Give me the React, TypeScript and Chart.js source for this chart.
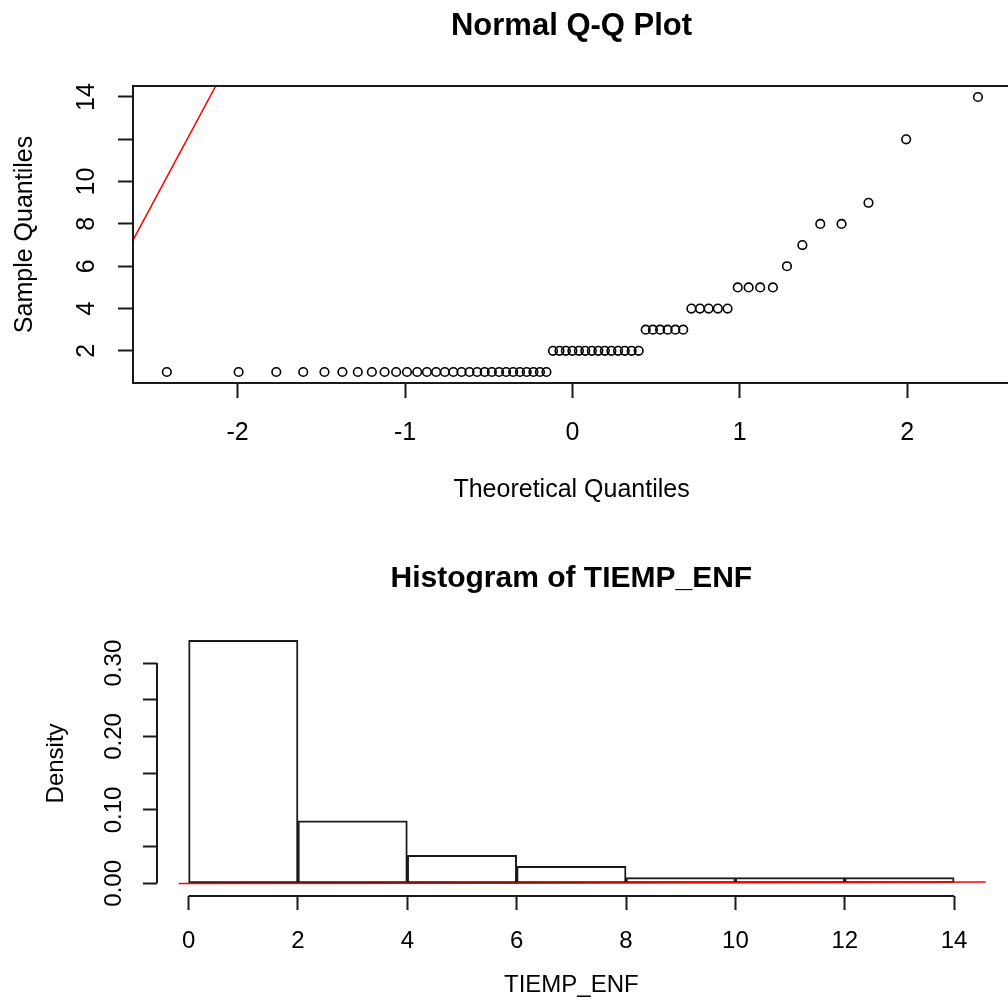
import React, { useEffect, useRef } from "react";
import { Chart, registerables } from "chart.js";

Chart.register(...registerables);

const FONT = '"Liberation Sans", Arial, Helvetica, sans-serif';

// ---------- Normal Q-Q plot data ----------
const qqTheoretical = [
  -2.423, -1.994, -1.769, -1.608, -1.481, -1.374, -1.282, -1.198, -1.122, -1.053,
  -0.988, -0.927, -0.869, -0.814, -0.762, -0.711, -0.662, -0.615, -0.569, -0.524,
  -0.481, -0.438, -0.396, -0.354, -0.313, -0.273, -0.233, -0.194, -0.155, -0.116,
  -0.077, -0.039, 0.0, 0.039, 0.077, 0.116, 0.155, 0.194, 0.233, 0.273,
  0.313, 0.354, 0.396, 0.438, 0.481, 0.524, 0.569, 0.615, 0.662, 0.711,
  0.762, 0.814, 0.869, 0.927, 0.988, 1.053, 1.122, 1.198, 1.282, 1.374,
  1.481, 1.608, 1.769, 1.994, 2.423,
];
const qqSample = [
  1, 1, 1, 1, 1, 1, 1, 1, 1, 1,
  1, 1, 1, 1, 1, 1, 1, 1, 1, 1,
  1, 1, 1, 1, 1, 1, 1, 1, 1, 2,
  2, 2, 2, 2, 2, 2, 2, 2, 2, 2,
  2, 2, 2, 3, 3, 3, 3, 3, 3, 4,
  4, 4, 4, 4, 5, 5, 5, 5, 6, 7,
  8, 8, 9, 12, 14,
];
const qqLineX = [-2.7, -2.0];
const qqLineY = [6.13, 16.45];
const qqXTicks = [-2, -1, 0, 1, 2];
const qqXTickLabels = ["-2", "-1", "0", "1", "2"];
const qqYTicks = [2, 4, 6, 8, 10, 12, 14];
const qqYTickLabels = ["2", "4", "6", "8", "10", "", "14"];

// ---------- Histogram data ----------
const histBreaks = [0, 2, 4, 6, 8, 10, 12, 14];
const histDensity = [0.331, 0.085, 0.038, 0.023, 0.0077, 0.0077, 0.0077];
const histLineX = [-0.18, 5.8, 11.8, 14.7];
const histLineY = [-0.0004, 0.0002, 0.0012, 0.0018];
const histXTicks = [0, 2, 4, 6, 8, 10, 12, 14];
const histXTickLabels = ["0", "2", "4", "6", "8", "10", "12", "14"];
const histYTicks = [0, 0.05, 0.1, 0.15, 0.2, 0.25, 0.3];
const histYTickLabels = ["0.00", "", "0.10", "", "0.20", "", "0.30"];

const INK = "#1a1a1a";

const framePlugin = {
  id: "frame",
  afterDraw(chart: any) {
    const { ctx, chartArea } = chart;
    const { left, top, right, bottom } = chartArea;
    ctx.save();
    ctx.strokeStyle = INK;
    ctx.lineWidth = 2;
    ctx.strokeRect(left, top, right - left, bottom - top);
    ctx.restore();
  },
};

const histAxesPlugin = {
  id: "histAxes",
  afterDraw(chart: any) {
    const { ctx, chartArea } = chart;
    const xs = chart.scales.x;
    const ys = chart.scales.y;
    ctx.save();
    ctx.strokeStyle = INK;
    ctx.lineWidth = 2;
    ctx.beginPath();
    ctx.moveTo(xs.getPixelForValue(histXTicks[0]), chartArea.bottom);
    ctx.lineTo(xs.getPixelForValue(histXTicks[histXTicks.length - 1]), chartArea.bottom);
    ctx.moveTo(chartArea.left, ys.getPixelForValue(histYTicks[0]));
    ctx.lineTo(chartArea.left, ys.getPixelForValue(histYTicks[histYTicks.length - 1]));
    ctx.stroke();
    ctx.restore();
  },
};

function tickGrid(len: number) {
  return {
    display: true,
    drawOnChartArea: false,
    drawTicks: true,
    tickLength: len,
    tickColor: INK,
    tickWidth: 2,
  };
}

function qqConfig(): any {
  const f25 = { family: FONT, size: 25, lineHeight: 1.2 };
  return {
    type: "scatter",
    data: {
      datasets: [
        {
          type: "line",
          data: qqLineX.map((x, i) => ({ x, y: qqLineY[i] })),
          borderColor: "#ff0000",
          borderWidth: 1.5,
          pointRadius: 0,
          fill: false,
          order: 0,
        },
        {
          type: "scatter",
          data: qqTheoretical.map((x, i) => ({ x, y: qqSample[i] })),
          pointStyle: "circle",
          pointRadius: 4.3,
          pointBorderWidth: 1.6,
          pointBorderColor: "#000",
          pointBackgroundColor: "rgba(0,0,0,0)",
          showLine: false,
          order: 1,
        },
      ],
    },
    options: {
      responsive: false,
      animation: false,
      devicePixelRatio: 1,
      events: [],
      layout: { padding: { left: 0, right: 5, top: 0, bottom: 0 } },
      plugins: {
        legend: { display: false },
        tooltip: { enabled: false },
        title: {
          display: true,
          fullSize: false,
          text: "Normal Q-Q Plot",
          color: "#000",
          font: { family: FONT, size: 31, weight: "bold", lineHeight: 1.2 },
          padding: { top: 7.5, bottom: 41.3 },
        },
      },
      scales: {
        x: {
          type: "linear",
          min: -2.625,
          max: 2.615,
          afterBuildTicks: (s: any) => {
            s.ticks = qqXTicks.map((v) => ({ value: v }));
          },
          afterFit: (s: any) => {
            s.height = 137;
          },
          grid: tickGrid(15),
          border: { display: false },
          ticks: {
            autoSkip: false,
            maxRotation: 0,
            padding: 20,
            color: "#000",
            font: f25,
            callback: (_v: any, i: number) => qqXTickLabels[i],
          },
          title: {
            display: true,
            text: "Theoretical Quantiles",
            color: "#000",
            font: f25,
            padding: { top: 0, bottom: 15 },
          },
        },
        y: {
          type: "linear",
          min: 0.48,
          max: 14.52,
          afterBuildTicks: (s: any) => {
            s.ticks = qqYTicks.map((v) => ({ value: v }));
          },
          afterFit: (s: any) => {
            s.width = 133;
          },
          grid: tickGrid(15),
          border: { display: false },
          ticks: {
            autoSkip: false,
            minRotation: 90,
            maxRotation: 90,
            crossAlign: "center",
            padding: 17,
            color: "#000",
            font: f25,
            callback: (_v: any, i: number) => qqYTickLabels[i],
          },
          title: {
            display: true,
            text: "Sample Quantiles",
            color: "#000",
            font: f25,
            padding: { top: 10, bottom: 0 },
          },
        },
      },
    },
    plugins: [framePlugin],
  };
}

function histConfig(): any {
  const f24 = { family: FONT, size: 24, lineHeight: 1.2 };
  const centers = histDensity.map((_d, i) => (histBreaks[i] + histBreaks[i + 1]) / 2);
  return {
    type: "bar",
    data: {
      datasets: [
        {
          type: "line",
          data: histLineX.map((x, i) => ({ x, y: histLineY[i] })),
          borderColor: "#ff0000",
          borderWidth: 1.5,
          pointRadius: 0,
          fill: false,
          order: 0,
        },
        {
          type: "bar",
          data: centers.map((x, i) => ({ x, y: histDensity[i] })),
          backgroundColor: "rgba(255,255,255,0)",
          borderColor: INK,
          borderWidth: 1.3,
          borderSkipped: false,
          barPercentage: 1,
          categoryPercentage: 1,
          order: 1,
        },
      ],
    },
    options: {
      responsive: false,
      animation: false,
      devicePixelRatio: 1,
      events: [],
      layout: { padding: { left: 0, right: 22.3, top: 0, bottom: 0 } },
      plugins: {
        legend: { display: false },
        tooltip: { enabled: false },
        title: {
          display: true,
          fullSize: false,
          text: "Histogram of TIEMP_ENF",
          color: "#000",
          font: { family: FONT, size: 30, weight: "bold", lineHeight: 1.2 },
          padding: { top: 41, bottom: 33.8 },
        },
      },
      scales: {
        x: {
          type: "linear",
          offset: false,
          min: -0.578,
          max: 14.578,
          afterBuildTicks: (s: any) => {
            s.ticks = histXTicks.map((v) => ({ value: v }));
          },
          afterFit: (s: any) => {
            s.height = 105;
          },
          grid: { ...tickGrid(14), offset: false },
          border: { display: false },
          ticks: {
            autoSkip: false,
            maxRotation: 0,
            padding: 16.6,
            color: "#000",
            font: f24,
            callback: (_v: any, i: number) => histXTickLabels[i],
          },
          title: {
            display: true,
            text: "TIEMP_ENF",
            color: "#000",
            font: f24,
            padding: { top: 0, bottom: 1.6 },
          },
        },
        y: {
          type: "linear",
          min: -0.0173,
          max: 0.344,
          afterBuildTicks: (s: any) => {
            s.ticks = histYTicks.map((v) => ({ value: v }));
          },
          afterFit: (s: any) => {
            s.width = 157;
          },
          grid: tickGrid(14),
          border: { display: false },
          ticks: {
            autoSkip: false,
            minRotation: 90,
            maxRotation: 90,
            crossAlign: "center",
            padding: 5.6,
            color: "#000",
            font: f24,
            callback: (_v: any, i: number) => histYTickLabels[i],
          },
          title: {
            display: true,
            text: "Density",
            color: "#000",
            font: f24,
            padding: { top: 41.6, bottom: 0 },
          },
        },
      },
    },
    plugins: [histAxesPlugin],
  };
}

export default function App() {
  const topRef = useRef<HTMLCanvasElement>(null);
  const botRef = useRef<HTMLCanvasElement>(null);

  useEffect(() => {
    const c1 = new Chart(topRef.current as HTMLCanvasElement, qqConfig());
    const c2 = new Chart(botRef.current as HTMLCanvasElement, histConfig());
    return () => {
      c1.destroy();
      c2.destroy();
    };
  }, []);

  return (
    <div
      style={{
        position: "absolute",
        left: 0,
        top: 0,
        width: 1008,
        height: 1001,
        overflow: "hidden",
        background: "#ffffff",
      }}
    >
      <canvas
        ref={topRef}
        width={1016}
        height={520}
        style={{ position: "absolute", left: 0, top: 0, width: 1016, height: 520 }}
      />
      <canvas
        ref={botRef}
        width={1008}
        height={481}
        style={{ position: "absolute", left: 0, top: 520, width: 1008, height: 481 }}
      />
    </div>
  );
}
